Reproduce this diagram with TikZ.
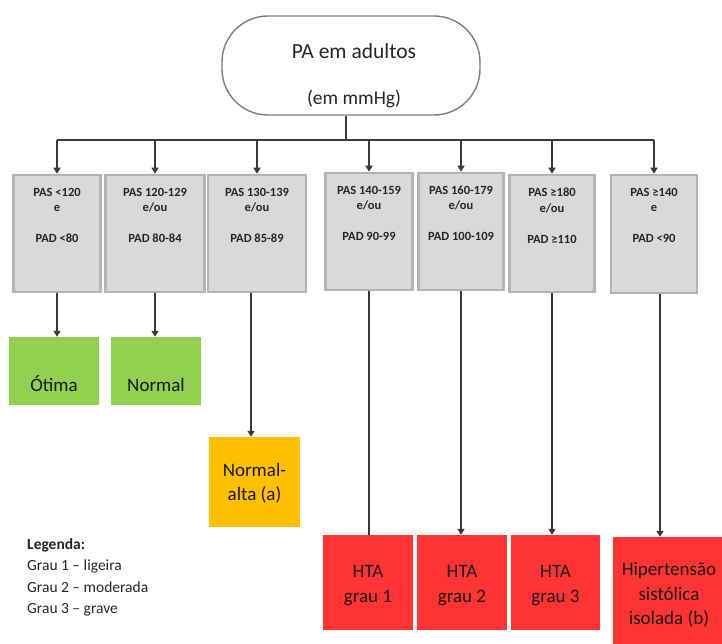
\documentclass[tikz,border=0pt]{standalone}
\usepackage{fontspec}
\setmainfont{Carlito}
\usetikzlibrary{arrows.meta,calc}
\definecolor{boxfill}{HTML}{D9D9D9}
\definecolor{boxedge}{HTML}{B4B4B4}
\definecolor{topedge}{HTML}{7F7F7F}
\definecolor{linec}{HTML}{3A3A3A}
\definecolor{okgreen}{HTML}{92D050}
\definecolor{warnorange}{HTML}{FFC000}
\definecolor{alertred}{HTML}{FF3333}
\begin{document}
\begin{tikzpicture}[x=1pt,y=-1pt,
  topbox/.style={draw=topedge,line width=1.4pt,fill=white,rounded corners=46pt,minimum width=258pt,minimum height=99pt,inner sep=0pt},
  graybox/.style={draw=boxedge,line width=2.6pt,fill=boxfill,inner sep=0pt},
  graytext/.style={anchor=north,align=center,inner sep=0pt,font=\bfseries\fontsize{12.5}{15.5}\selectfont,text=black!85},
  colbox/.style={inner sep=0pt,draw=none},
  coltext/.style={align=center,inner sep=0pt,font=\fontsize{19}{24.5}\selectfont,text=black!90},
  conn/.style={draw=linec,line width=2pt},
  arr/.style={conn,-{Triangle[length=6pt,width=7pt]}},
  toptext/.style={inner sep=0pt,font=\fontsize{21.5}{24}\selectfont,text=black!85}]
\useasboundingbox (0,0) rectangle (722,644);
\fill[white] (0,0) rectangle (722,644);

% top node
\node[topbox] (T) at (351,65.5) {};
\node[toptext] (t1) at (354,51) {PA em adultos};
\node[toptext,font=\fontsize{19.5}{22}\selectfont] (t2) at (354,99) {(em mmHg)};

% gray criteria boxes
\node[graybox,minimum width=87pt,minimum height=117pt] (g1) at (57,233.5) {};
\node[graybox,minimum width=99pt,minimum height=117pt] (g2) at (155,233.5) {};
\node[graybox,minimum width=98pt,minimum height=117pt] (g3) at (257,233.5) {};
\node[graybox,minimum width=87pt,minimum height=117pt] (g4) at (369,231.5) {};
\node[graybox,minimum width=85pt,minimum height=117pt] (g5) at (461,231.5) {};
\node[graybox,minimum width=85pt,minimum height=117pt] (g6) at (552,233.5) {};
\node[graybox,minimum width=86pt,minimum height=118pt] (g7) at (654,234) {};

\node[graytext] (x1) at ($(g1.north)+(0,14)$) {PAS <120\\e\\[15.5pt]PAD <80};
\node[graytext] (x2) at ($(g2.north)+(0,14)$) {PAS 120-129\\e/ou\\[15.5pt]PAD 80-84};
\node[graytext] (x3) at ($(g3.north)+(0,14)$) {PAS 130-139\\e/ou\\[15.5pt]PAD 85-89};
\node[graytext] (x4) at ($(g4.north)+(0,14)$) {PAS 140-159\\e/ou\\[15.5pt]PAD 90-99};
\node[graytext] (x5) at ($(g5.north)+(0,14)$) {PAS 160-179\\e/ou\\[15.5pt]PAD 100-109};
\node[graytext] (x6) at ($(g6.north)+(0,14)$) {PAS ≥180\\e/ou\\[15.5pt]PAD ≥110};
\node[graytext] (x7) at ($(g7.north)+(0,14)$) {PAS ≥140\\e\\[15.5pt]PAD <90};

% result boxes
\node[colbox,fill=okgreen,minimum width=90pt,minimum height=68pt] (c1) at (54,371) {};
\node[colbox,fill=okgreen,minimum width=90pt,minimum height=68pt] (c2) at (156,371) {};
\node[colbox,fill=warnorange,minimum width=91pt,minimum height=90pt] (c3) at (254.5,482) {};
\node[colbox,fill=alertred,minimum width=90pt,minimum height=95pt] (c4) at (368,582.5) {};
\node[colbox,fill=alertred,minimum width=90pt,minimum height=95pt] (c5) at (462,582.5) {};
\node[colbox,fill=alertred,minimum width=89pt,minimum height=95pt] (c6) at (555.5,582.5) {};
\node[colbox,fill=alertred,minimum width=116pt,minimum height=113pt] (c7) at (671,593.5) {};

\node[coltext,anchor=base] (l1) at (54,391) {Ótima};
\node[coltext,anchor=base] (l2) at (156,391) {Normal};
\node[coltext] (l3) at (254.5,483) {Normal-\\alta (a)};
\node[coltext] (l4) at (368,585.5) {HTA\\grau 1};
\node[coltext] (l5) at (462,585.5) {HTA\\grau 2};
\node[coltext] (l6) at (555.5,585.5) {HTA\\grau 3};
\node[coltext] (l7) at (669,595) {Hipertensão\\sistólica\\isolada (b)};

% legend
\node[anchor=north west,align=left,inner sep=0pt,font=\fontsize{15.5}{21.5}\selectfont,text=black!85] (leg) at (27,538)
  {\textbf{Legenda:}\\Grau 1 – ligeira\\Grau 2 – moderada\\Grau 3 – grave};

% connectors from top
\draw[conn] (T.south -| 346,0) -- (346,140) coordinate (hub);
\draw[conn] (g1.north |- hub) -- (g7.north |- hub);
\foreach \g in {g1,g2,g3,g4,g5,g6,g7}{
  \draw[arr] (\g.north |- hub) -- (\g.north);
}

% connectors to results
\draw[arr] (g1.south) -- (g1.south |- c1.north);
\draw[arr] (g2.south) -- (g2.south |- c2.north);
\draw[arr] ($(g3.south)+(-6,0)$) -- ($(g3.south |- c3.north)+(-6,0)$);
\draw[conn] (g4.south) -- (g4.south |- c4.north);
\draw[arr] (g5.south) -- (g5.south |- c5.north);
\draw[arr] (g6.south) -- (g6.south |- c6.north);
\draw[arr] ($(g7.south)+(6,0)$) -- ($(g7.south |- c7.north)+(6,0)$);
\end{tikzpicture}
\end{document}
